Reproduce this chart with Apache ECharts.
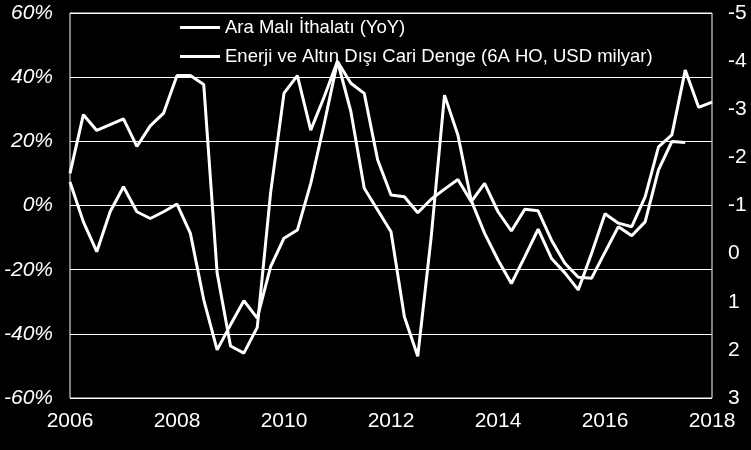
<!DOCTYPE html>
<html>
<head>
<meta charset="utf-8">
<title>Ara Malı İthalatı ve Cari Denge</title>
<script src="https://cdn.jsdelivr.net/npm/echarts@6/dist/echarts.min.js"></script>
<style>
  html, body { margin: 0; padding: 0; background: #000; }
  #chart { width: 751px; height: 450px; }
</style>
</head>
<body>
<div id="chart"></div>
<script>
// quarterly points, 2006Q1 .. 2018Q1
var quarters = [
  '2006Q1','2006Q2','2006Q3','2006Q4','2007Q1','2007Q2','2007Q3','2007Q4',
  '2008Q1','2008Q2','2008Q3','2008Q4','2009Q1','2009Q2','2009Q3','2009Q4',
  '2010Q1','2010Q2','2010Q3','2010Q4','2011Q1','2011Q2','2011Q3','2011Q4',
  '2012Q1','2012Q2','2012Q3','2012Q4','2013Q1','2013Q2','2013Q3','2013Q4',
  '2014Q1','2014Q2','2014Q3','2014Q4','2015Q1','2015Q2','2015Q3','2015Q4',
  '2016Q1','2016Q2','2016Q3','2016Q4','2017Q1','2017Q2','2017Q3','2017Q4',
  '2018Q1'
];

// Ara Malı İthalatı (YoY), % - left axis
var araMali = [
  10, 28.3, 23.4, 25.2, 27, 18.4, 24.8, 28.8,
  40.5, 40.5, 37.7, -21, -43.8, -46, -38, 4,
  35, 40.5, 23.5, 33.8, 45, 29.3, 5.4, -1.4,
  -8.2, -34.7, -47, -10, 34.4, 22, 1.5, -8.7,
  -17, -24.3, -16, -7.4, -16.5, -21, -26.3, -14.9,
  -2.6, -5.5, -6.6, 2.7, 18.3, 22, 42.2, 30.6,
  32.2
];

// Enerji ve Altın Dışı Cari Denge (6A HO, USD milyar) - right axis, inverted
var cariDenge = [
  -1.49, -0.66, -0.04, -0.87, -1.39, -0.87, -0.73, -0.87,
  -1.03, -0.42, 0.96, 2.0, 1.48, 0.98, 1.34, 0.27,
  -0.32, -0.49, -1.46, -2.69, -3.99, -3.54, -3.33, -1.95,
  -1.22, -1.18, -0.85, -1.13, -1.34, -1.54, -1.08, -1.46,
  -0.87, -0.47, -0.92, -0.89, -0.28, 0.20, 0.49, 0.51,
  -0.03, -0.56, -0.37, -0.66, -1.74, -2.33, -2.31, null,
  null
];

var seriesNames = ['Ara Malı İthalatı (YoY)', 'Enerji ve Altın Dışı Cari Denge (6A HO, USD milyar)'];

var font = 'Liberation Sans, Arial, sans-serif';

var chart = echarts.init(document.getElementById('chart'));
chart.setOption({
  animation: false,
  backgroundColor: '#000',
  textStyle: { fontFamily: font, color: '#fff' },
  grid: {
    left: 70, right: 39, top: 13, bottom: 52,
    show: true, borderColor: '#fff', borderWidth: 1,
    containLabel: false
  },
  legend: {
    orient: 'vertical',
    left: 175,
    top: 13,
    icon: 'rect',
    itemWidth: 40,
    itemHeight: 3,
    itemGap: 10,
    data: seriesNames,
    textStyle: { color: '#fff', fontSize: 18.5, fontFamily: font }
  },
  xAxis: {
    type: 'category',
    data: quarters,
    boundaryGap: false,
    axisLine: { show: false },
    axisTick: { show: false },
    splitLine: { show: false },
    axisLabel: {
      interval: 7,
      color: '#fff',
      fontSize: 21,
      margin: 13,
      fontFamily: font,
      formatter: function (v) { return v.slice(0, 4); }
    }
  },
  yAxis: [
    {
      type: 'value',
      min: -60, max: 60, interval: 20,
      axisLine: { show: false },
      axisTick: { show: false },
      splitLine: { lineStyle: { color: '#fff', width: 1 } },
      axisLabel: {
        color: '#fff', fontSize: 21, fontStyle: 'italic', margin: 17,
        fontFamily: font, formatter: '{value}%'
      }
    },
    {
      type: 'value',
      min: -5, max: 3, interval: 1,
      inverse: true,
      position: 'right',
      axisLine: { show: false },
      axisTick: { show: false },
      splitLine: { show: false },
      axisLabel: { color: '#fff', fontSize: 21, margin: 16, fontFamily: font }
    }
  ],
  series: [
    {
      name: seriesNames[0],
      type: 'line',
      yAxisIndex: 0,
      data: araMali,
      symbol: 'none',
      lineStyle: { color: '#fff', width: 3 },
      itemStyle: { color: '#fff' }
    },
    {
      name: seriesNames[1],
      type: 'line',
      yAxisIndex: 1,
      data: cariDenge,
      symbol: 'none',
      lineStyle: { color: '#fff', width: 3 },
      itemStyle: { color: '#fff' }
    }
  ]
});
</script>
</body>
</html>
